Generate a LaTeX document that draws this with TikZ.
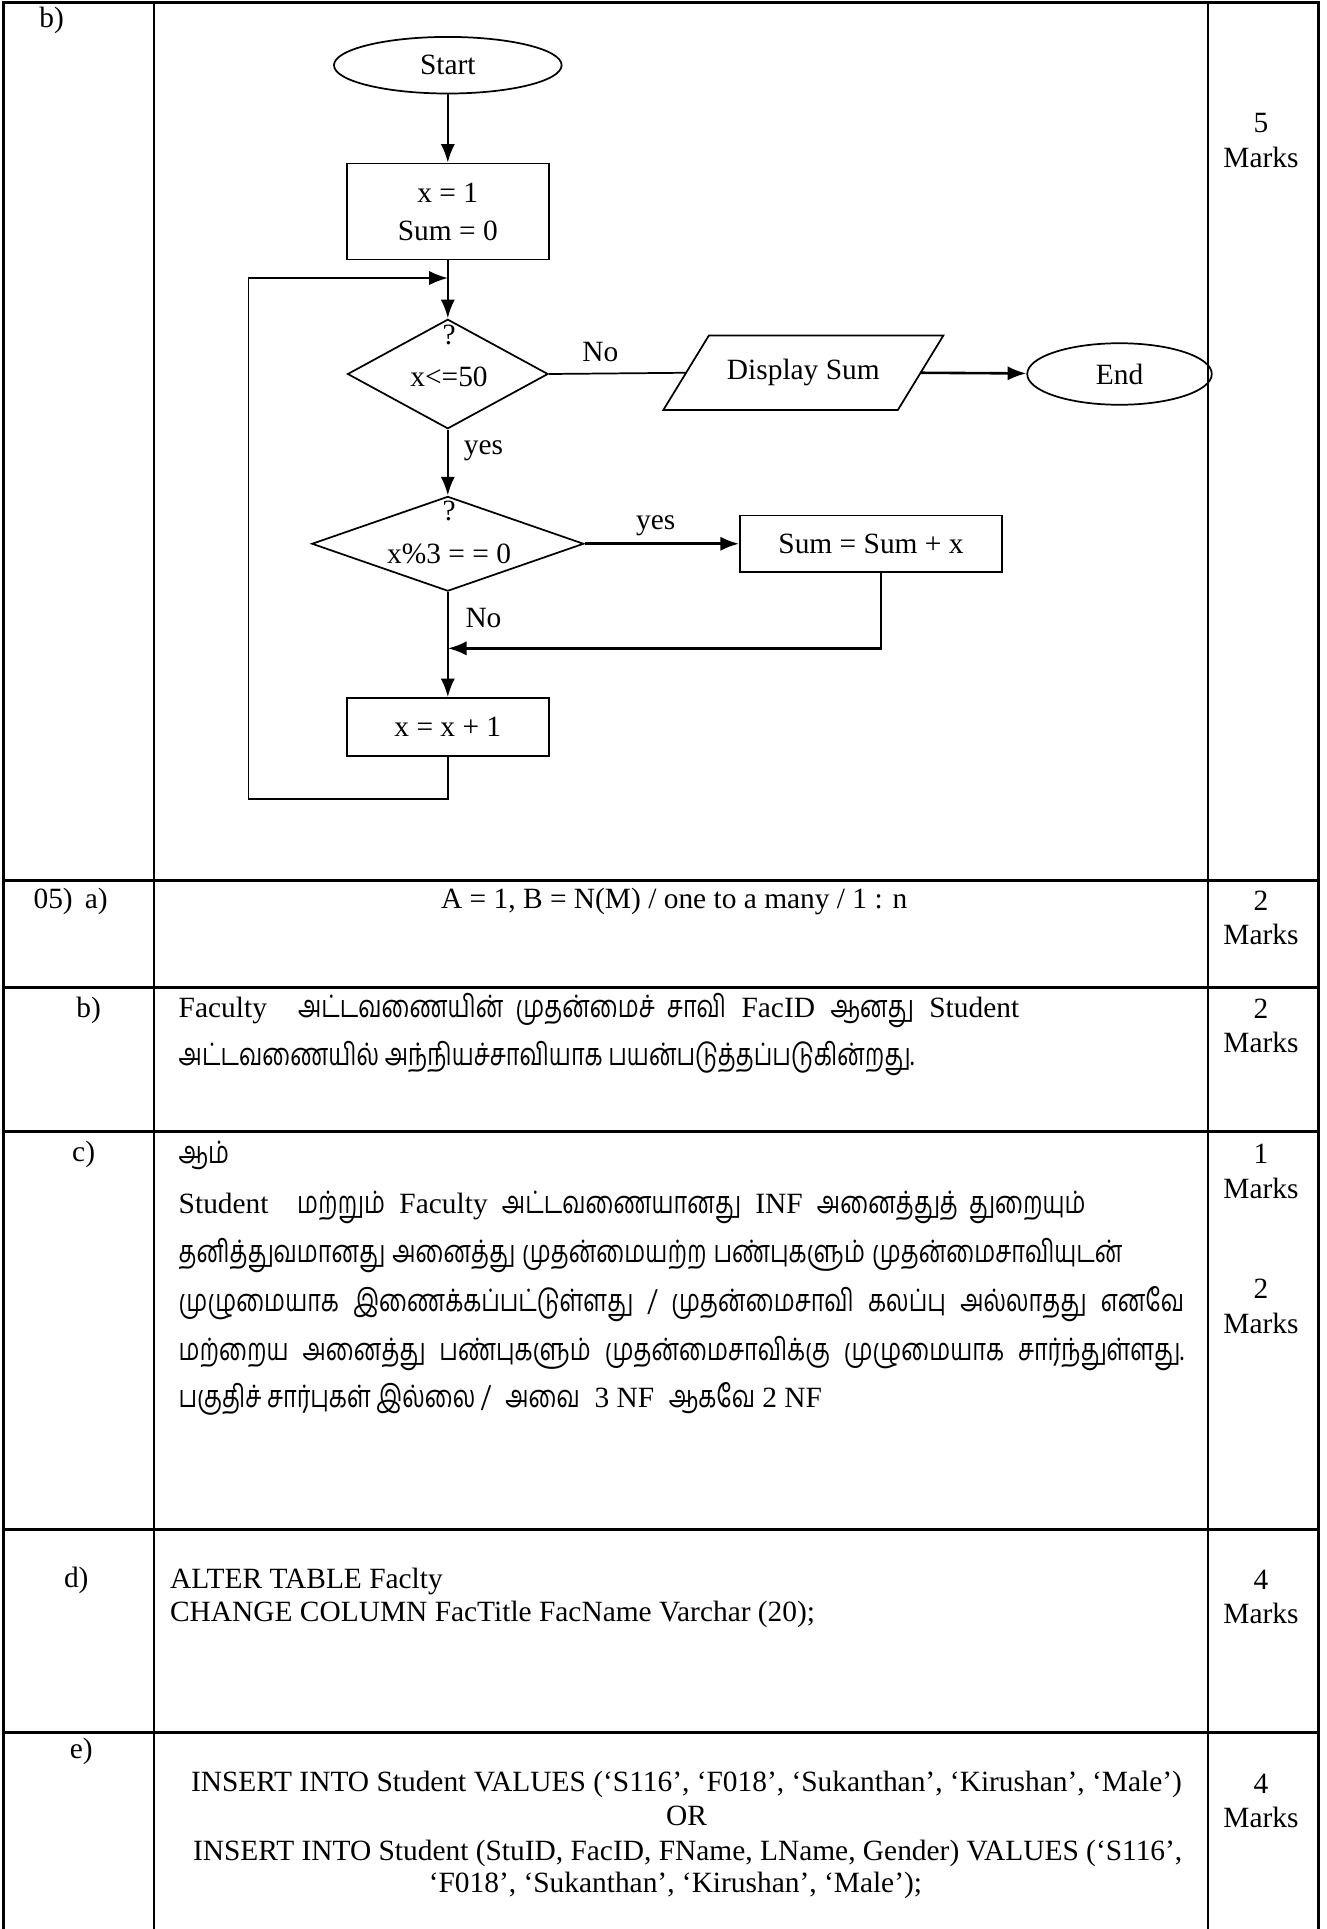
\documentclass[tikz,border=0pt]{standalone}
\usepackage{fontspec}
\setmainfont{Liberation Serif}
\newfontfamily\tamilfont[Script=Tamil, Scale=1.05, FakeStretch=0.76]{Hind Madurai}
\usetikzlibrary{shapes.geometric, arrows.meta, positioning}
\newcommand{\tam}[1]{{\tamilfont #1}}

\tikzset{
  rowline/.style={line width=1.8pt},
  colline/.style={line width=0.9pt},
  flowline/.style={line width=1pt},
  flowarrow/.style={line width=1.5pt, -{Latex[length=3.8mm,width=2.9mm]}},
  term/.style={draw, ellipse, line width=1pt, inner sep=0pt},
  procbox/.style={draw, rectangle, line width=1pt, inner sep=0pt, align=center},
  decide/.style={draw, diamond, line width=1pt, inner sep=0pt},
  iobox/.style={rectangle, inner sep=0pt},
  txt/.style={inner sep=0pt},
  marks/.style={inner sep=0pt, align=center}
}

\begin{document}
\begin{tikzpicture}[x=0.025cm, y=-0.025cm, every node/.style={font=\fontsize{17}{20}\selectfont}]
\useasboundingbox (0,0) rectangle (1078,1568);

% table frame
\draw[rowline] (3,1568) -- (3,2) -- (1072,2) -- (1072,1568);
\draw[colline] (125,2) -- (125,1568);
\draw[colline] (982,2) -- (982,1568);
\foreach \ry in {716,803,920,1243,1408}
  \draw[rowline] (3,\ry) -- (1072,\ry);

% question numbers
\node[txt] (qb) at (42,17) {b)};
\node[txt, anchor=west] (q5a) at (27,733) {05)\hspace{7pt}a)};
\node[txt] (q5b) at (72,821) {b)};
\node[txt] (q5c) at (68,938) {c)};
\node[txt] (q5d) at (62,1285) {d)};
\node[txt] (q5e) at (66,1424) {e)};

% marks
\node[marks] (mk1) at (1025,114) {5\\Marks};
\node[marks] (mk2) at (1025,746) {2\\Marks};
\node[marks] (mk3) at (1025,834) {2\\Marks};
\node[marks] (mk4) at (1025,952) {1\\Marks};
\node[marks] (mk5) at (1025,1062) {2\\Marks};
\node[marks] (mk6) at (1025,1298) {4\\Marks};
\node[marks] (mk7) at (1025,1464) {4\\Marks};

% flowchart
\node[term, minimum width=4.625cm, minimum height=1.15cm] (start) at (364,53) {Start};
\node[procbox, minimum width=4.1cm, minimum height=1.95cm] (init) at (364,172) {x = 1\\[2pt]Sum = 0};
\node[decide, minimum width=4.075cm, minimum height=2.225cm] (d1) at (364,304) {};
\node[txt] (q1) at (365,272) {?};
\node[txt] (c1) at (365,306) {x<=50};
\node[iobox, minimum width=4.75cm, minimum height=1.5cm] (disp) at (653,303) {Display Sum};
\draw[flowline] ([xshift=-0.4625cm]disp.south west) -- ([xshift=-0.4625cm]disp.south east)
  -- ([xshift=0.4625cm]disp.north east) -- ([xshift=0.4625cm]disp.north west) -- cycle;
\node[term, minimum width=3.75cm, minimum height=1.25cm] (fin) at (910,304) {End};
\node[decide, minimum width=5.525cm, minimum height=1.925cm] (d2) at (364,442) {};
\node[txt] (q2) at (365,415) {?};
\node[txt] (c2) at (365,450) {x\%3 = = 0};
\node[procbox, minimum width=5.325cm, minimum height=1.15cm] (acc) at (708,442) {Sum = Sum + x};
\node[procbox, minimum width=4.1cm, minimum height=1.175cm] (incr) at (364,591) {x = x + 1};
\coordinate (jtop) at (364,226);
\coordinate (jmid) at (364,527);

\node[txt] (lno1) at (488,286) {No};
\node[txt] (lyes1) at (393,366) {yes};
\node[txt] (lyes2) at (533,427) {yes};
\node[txt] (lno2) at (393,502) {No};

\draw[flowarrow] (start) -- (init);
\draw[flowarrow] (init) -- (d1);
\draw[flowline] (d1.east) -- (disp.west);
\draw[flowarrow] (disp.east) -- (fin);
\draw[flowarrow] (d1) -- (d2);
\draw[flowarrow] (d2.east) -- (acc.west);
\draw[flowarrow] ([xshift=0.2cm]acc.south) |- (jmid);
\draw[flowarrow] (d2) -- (incr);
\draw[flowarrow, line width=1pt] (incr.south) -- ++(0,34) -- ++(-162,0) |- (jtop);

% answers
\node[txt] (ansa) at (548,733) {A = 1, B = N(M) / one to a many / 1 : n};

\node[txt, anchor=base west] (ansb1) at (145,827) {\makebox[17.075cm][s]{Faculty \ \tam{அட்டவணையின் முதன்மைச் சாவி} FacID \tam{ஆனது} Student}};
\node[txt, anchor=base west] (ansb2) at (145,866) {\tam{அட்டவணையில் அந்நியச்சாவியாக பயன்படுத்தப்படுகின்றது.}};

\node[txt, anchor=base west] (ansc0) at (145,946) {\tam{ஆம்}};
\node[txt, anchor=base west] (ansc1) at (145,986) {\makebox[18.425cm][s]{Student \ \tam{மற்றும்} Faculty \tam{அட்டவணையானது} INF \tam{அனைத்துத் துறையும்}}};
\node[txt, anchor=base west] (ansc2) at (145,1026) {\makebox[19.175cm][s]{\tam{தனித்துவமானது அனைத்து முதன்மையற்ற பண்புகளும் முதன்மைசாவியுடன்}}};
\node[txt, anchor=base west] (ansc3) at (145,1066) {\makebox[20.425cm][s]{\tam{முழுமையாக இணைக்கப்பட்டுள்ளது / முதன்மைசாவி கலப்பு அல்லாதது எனவே}}};
\node[txt, anchor=base west] (ansc4) at (145,1106) {\makebox[20.425cm][s]{\tam{மற்றைய அனைத்து பண்புகளும் முதன்மைசாவிக்கு முழுமையாக சார்ந்துள்ளது.}}};
\node[txt, anchor=base west] (ansc5) at (145,1144) {\tam{பகுதிச் சார்புகள் இல்லை /} \ \tam{அவை} \ 3 NF \ \tam{ஆகவே} 2 NF};

\node[txt, anchor=base west] (ansd1) at (138,1291) {ALTER TABLE Faclty};
\node[txt, anchor=base west] (ansd2) at (138,1318) {CHANGE COLUMN FacTitle FacName Varchar (20);};

\node[txt, anchor=base] (anse1) at (558,1456) {INSERT INTO Student VALUES (‘S116’, ‘F018’, ‘Sukanthan’, ‘Kirushan’, ‘Male’)};
\node[txt, anchor=base] (anse2) at (558,1484) {OR};
\node[txt, anchor=base] (anse3) at (559,1512) {INSERT INTO Student (StuID, FacID, FName, LName, Gender) VALUES (‘S116’,};
\node[txt, anchor=base] (anse4) at (549,1538) {‘F018’, ‘Sukanthan’, ‘Kirushan’, ‘Male’);};
\end{tikzpicture}
\end{document}
